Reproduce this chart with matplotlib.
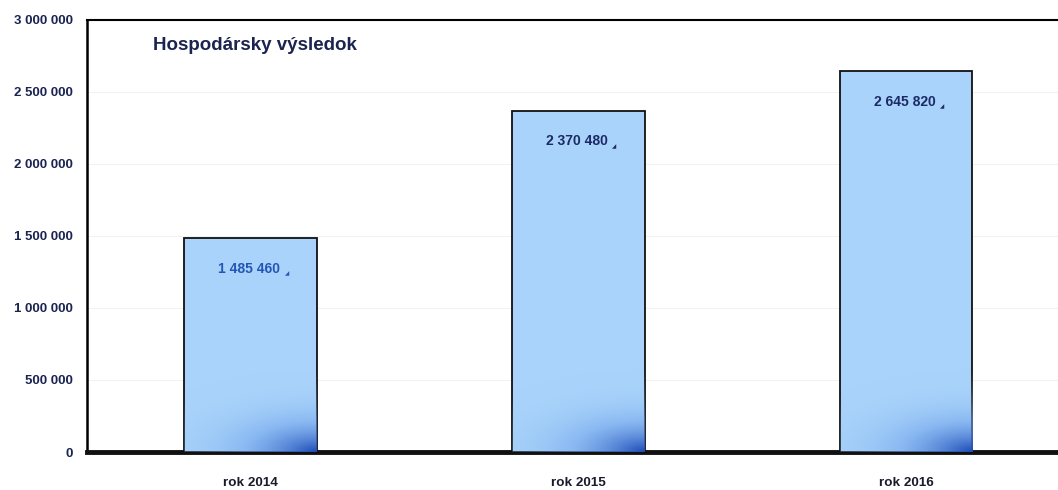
import matplotlib
matplotlib.use("Agg")
import matplotlib.pyplot as plt
import numpy as np
from matplotlib.colors import LinearSegmentedColormap
from matplotlib import font_manager

categories = ["rok 2014", "rok 2015", "rok 2016"]
values = [1485460, 2370480, 2645820]
value_labels = ["1 485 460", "2 370 480", "2 645 820"]
yticks = [0, 500000, 1000000, 1500000, 2000000, 2500000, 3000000]
ytick_labels = ["0", "500 000", "1 000 000", "1 500 000", "2 000 000", "2 500 000", "3 000 000"]
title = "Hospodársky výsledok"

fam = "Liberation Sans"
bold_ok = any(f.name == fam and f.weight in ("bold", 700) for f in font_manager.fontManager.ttflist)
if not bold_ok:
    fam = "Roboto"
plt.rcParams['font.family'] = [fam, 'DejaVu Sans']

fig = plt.figure(figsize=(10.58, 4.9), dpi=100)
ax = fig.add_axes([87/1058, 38/490, 1 - 87/1058 + 0.002, (452-20)/490])

x = np.arange(len(categories))
bars = ax.bar(x, values, width=0.405, color="#a9d3fa", edgecolor="#111111", linewidth=1.3, zorder=3)

cmap = LinearSegmentedColormap.from_list("g", [(0.66, 0.83, 0.98, 0.0), (0.45, 0.65, 0.93, 0.55), (0.12, 0.30, 0.72, 1.0)])
ny, nx = 200, 100
yy, xx = np.mgrid[0:1:ny*1j, 0:1:nx*1j]
for b in bars:
    x0, w, h = b.get_x(), b.get_width(), b.get_height()
    hpx = h / 3e6 * 432
    wpx = 133
    d = np.sqrt(((1 - xx) * wpx * 0.55) ** 2 + (yy * hpx * 1.3) ** 2)
    z = np.clip(1 - d / 110, 0, 1) ** 1.5
    im = ax.imshow(z, origin="lower", extent=[x0, x0 + w, 0, h], aspect="auto",
                   cmap=cmap, vmin=0, vmax=1, zorder=3.5, interpolation="bilinear")
    im.set_clip_path(b)

label_colors = ["#2456b5", "#1b2a66", "#1b2a66"]
for xi, v, lab, c in zip(x, values, value_labels, label_colors):
    ax.annotate(lab, (xi, v), xytext=(-1, -22), textcoords="offset points",
                ha="center", va="center", fontsize=10, fontweight="bold", color=c, zorder=5)
    ax.annotate("◢", (xi, v), xytext=(26, -26), textcoords="offset points",
                ha="center", va="center", fontsize=4, color=c, zorder=5,
                family="DejaVu Sans")

ax.set_xlim(-0.5, 2.47)
ax.set_ylim(0, 3000000)
ax.set_yticks(yticks)
ax.set_yticklabels(ytick_labels, fontsize=9.5, fontweight="bold", color="#1b2350")
ax.set_xticks(x)
ax.set_xticklabels(categories, fontsize=9.7, fontweight="bold", color="#1a1a2a")
ax.tick_params(axis="y", length=0, pad=10)
ax.tick_params(axis="x", length=0, pad=18)

ax.grid(axis="y", color="#f2f2f2", linewidth=0.8, zorder=0)
ax.spines["right"].set_visible(False)
ax.spines["top"].set_linewidth(1.5)
ax.spines["left"].set_linewidth(1.8)
ax.spines["bottom"].set_linewidth(3.5)
ax.spines["bottom"].set_color("#111111")

ax.text((153 - 87) / 973, 0.94, title, transform=ax.transAxes, ha="left", va="center",
        fontsize=13.5, fontweight="bold", color="#1b2350")
ax.set_facecolor("white")

fig.savefig("out.png", dpi=100)
